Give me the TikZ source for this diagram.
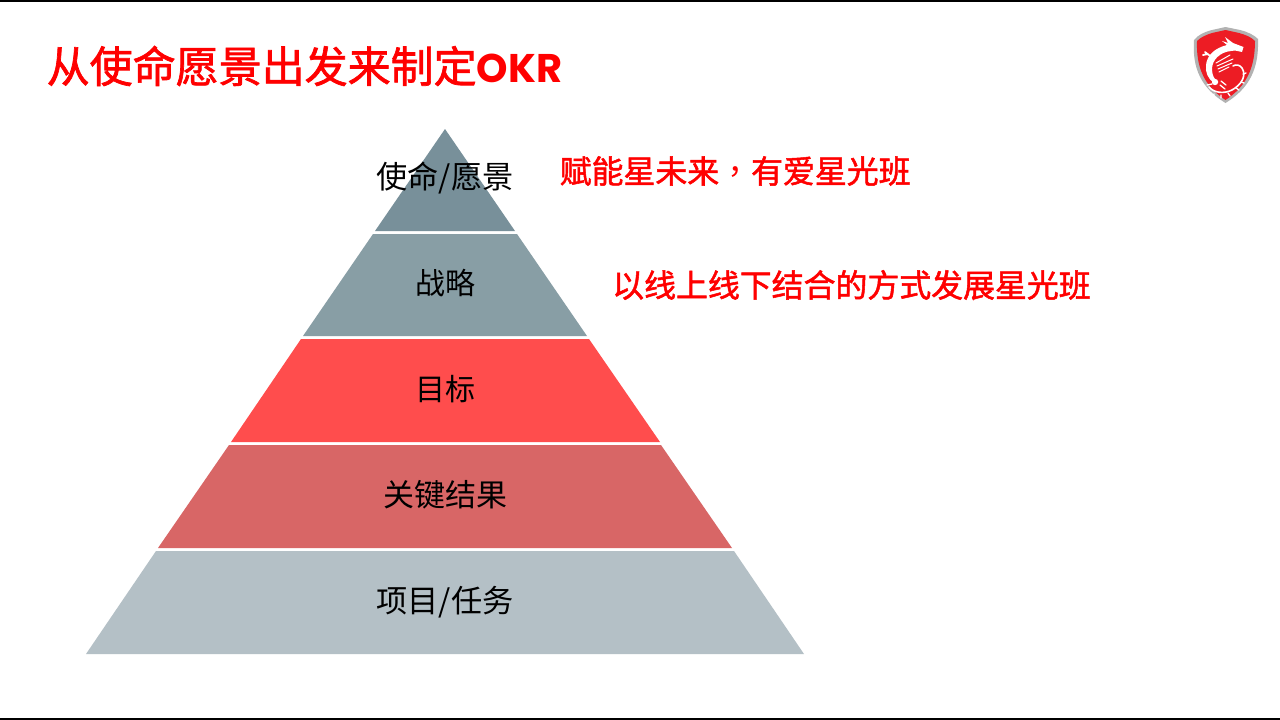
\documentclass[tikz,border=0pt]{standalone}
\usepackage{fontspec}
\setmainfont{Noto Sans CJK SC}
\newfontfamily\cjk{Noto Sans CJK SC}
\newfontfamily\cjkfb[FakeBold=1.6]{Noto Sans CJK SC}
\newfontfamily\cjktc{Noto Sans CJK TC}
\newfontfamily\latinb{Poppins}
\newcommand{\px}[1]{\fontsize{#1pt}{#1pt}\selectfont}
\tikzset{
 tierlabel/.style={text=black,inner sep=0pt,anchor=center},
 redlabel/.style={text=red,inner sep=0pt,anchor=west,font=\cjkfb\px{31.9}},
 dragon/.style={white,line cap=round,line join=round},
}
\definecolor{t1}{HTML}{78909A}
\definecolor{t2}{HTML}{889EA5}
\definecolor{t3}{HTML}{FF4D4D}
\definecolor{t4}{HTML}{D86666}
\definecolor{t5}{HTML}{B4C0C6}
\definecolor{shield}{HTML}{ED1C24}
\begin{document}
\begin{tikzpicture}[x=1pt,y=-1pt]
\useasboundingbox (0,0) rectangle (1280,720);
\fill[white] (0,0) rectangle (1280,720);
\fill[black] (0,0) rectangle (1280,2);
\fill[black] (0,718) rectangle (1280,720);
% pyramid
\fill[t1] (445,129) -- (515,231) -- (375,231) -- cycle;
\fill[t2] (373,234) -- (517,234) -- (587,336) -- (303,336) -- cycle;
\fill[t3] (301,339) -- (589,339) -- (660,442) -- (231,442) -- cycle;
\fill[t4] (229,445) -- (661,445) -- (732,548) -- (158,548) -- cycle;
\fill[t5] (156,551) -- (734,551) -- (804,654) -- (86,654) -- cycle;
\node[tierlabel,font=\cjk\px{31.2}] (a) at (445,178) {使命/愿景};
\node[tierlabel,font=\cjk\px{30}] (b) at (445,283.5) {战略};
\node[tierlabel,font=\cjk\px{30}] (c) at (445,389.5) {目标};
\node[tierlabel,font=\cjk\px{31}] (d) at (445,495) {关键结果};
\node[tierlabel,font=\cjk\px{31.2}] (e) at (445,602) {项目/任务};
% title
\node[inner sep=0pt,anchor=west,text=red,font=\cjkfb\px{43}] (title) at (46.5,66) {从使命愿景出发来制定{\latinb\bfseries\px{40}OKR}};
\node[redlabel] (r1) at (559.5,171) {赋能星未来{\cjktc ，}有爱星光班};
\node[redlabel] (r2) at (612,285) {以线上线下结合的方式发展星光班};
% logo
\fill[gray!60] (1225.5,27) -- (1240,30) .. controls (1248,32) and (1254,35) .. (1258,39) .. controls (1259,68) and (1250,88) .. (1225.5,103) .. controls (1201,88) and (1192,68) .. (1194,40) .. controls (1198,35) and (1204,32) .. (1212,30) -- cycle;
\fill[shield] (1225.5,30) -- (1239,33) .. controls (1246,35) and (1251,37) .. (1255,41) .. controls (1255,67) and (1247,86) .. (1225.5,100) .. controls (1204,86) and (1196,67) .. (1197,41) .. controls (1201,37) and (1206,35) .. (1212,33) -- cycle;
% dragon
\fill[dragon] (1225,37) -- (1233,43) -- (1243.5,47) -- (1242,52) -- (1235,50.5) -- (1231,51) .. controls (1220,52) and (1212,60) .. (1212,69) .. controls (1212,75) and (1214,79) .. (1218,82) -- (1214,83) .. controls (1208,79) and (1205,72) .. (1206,65) .. controls (1207,55) and (1215,48) .. (1227,45) -- (1222,41) -- (1228,43) -- cycle;
\draw[dragon,line width=1.6pt] (1209,87) .. controls (1214,93) and (1224,94) .. (1232,90) .. controls (1241,85) and (1247,76) .. (1242,68) .. controls (1240,65) and (1236,64) .. (1233,66);
\draw[dragon,line width=1.3pt] (1214,94) -- (1213,97) (1221,95) -- (1221,98) (1228,93) -- (1230,96) (1236,88) -- (1239,90) (1241,82) -- (1244,83) (1243,74) -- (1246,73);
\draw[dragon,line width=1pt] (1216,63) -- (1230,55) (1217,66) -- (1233,59) (1218,69) -- (1232,63) (1219,72) -- (1229,67);
\draw[dragon,line width=1.8pt] (1205,52) -- (1210,56) (1203,55) -- (1208,54);
\fill[dragon] (1215,82) circle (3.2);
\draw[dragon,line width=1.3pt] (1207,85) -- (1212,84) (1221,81) -- (1226,85) (1220,85) -- (1225,89);
\end{tikzpicture}
\end{document}
